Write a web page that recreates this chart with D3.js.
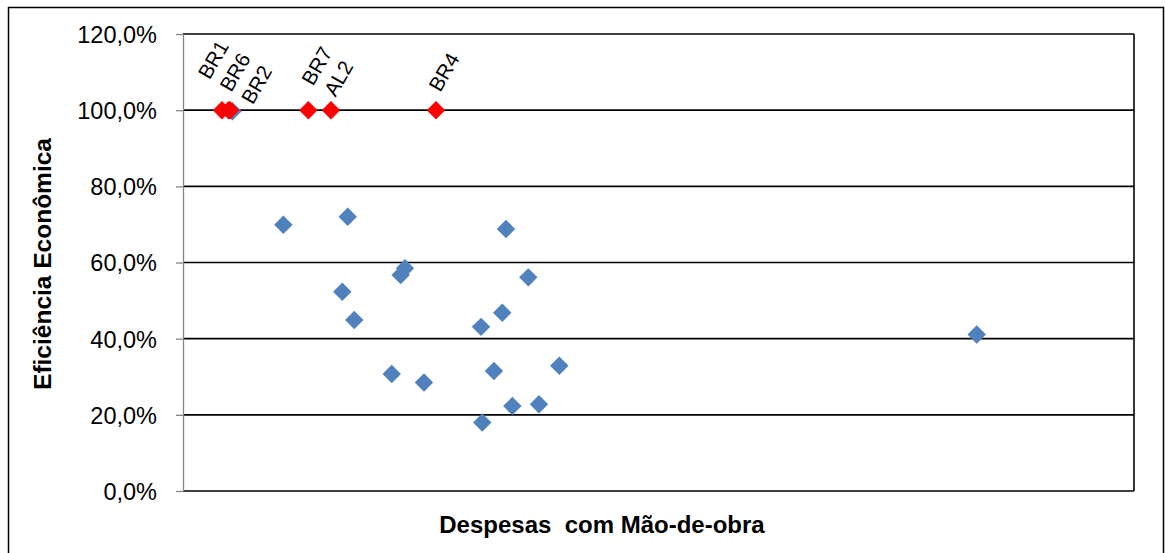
<!DOCTYPE html>
<html>
<head>
<meta charset="utf-8">
<script src="https://cdn.jsdelivr.net/npm/d3@7"></script>
<style>
  html, body { margin: 0; padding: 0; background: #fff; }
  svg { display: block; font-family: "Liberation Sans", Arial, sans-serif; }
</style>
</head>
<body>
<svg id="chart" width="1165" height="553"></svg>
<script>
// ---- data (x in arbitrary units of labour expenses, y = economic efficiency %) ----
const blueX = [5.2, 10.55, 17.32, 33.96, 23.34, 22.89, 16.75, 36.31, 18.01, 33.57, 31.34, 21.95, 25.34, 32.70, 39.57, 34.63, 37.43, 31.47, 83.46];
const blueY = [99.7, 69.9, 72.0, 68.8, 58.5, 56.7, 52.3, 56.1, 44.9, 46.8, 43.1, 30.7, 28.5, 31.5, 32.9, 22.3, 22.8, 18.0, 41.1];

const redNames = ["BR1", "BR6", "BR2", "BR7", "AL2", "BR4"];
const redX = [4.10, 4.80, 4.95, 13.18, 15.56, 26.60];
const redY = [100, 100, 100, 100, 100, 100];

const yTicks = [0, 20, 40, 60, 80, 100, 120];
const xTitle = "Despesas\u00a0 com Mão-de-obra";
const yTitle = "Eficiência Econômica";

// ---- layout ----
const svg = d3.select("#chart");
const plot = { left: 183, right: 1134, top: 34, bottom: 491 };

const x = d3.scaleLinear().domain([0, 100]).range([plot.left, plot.right]);
const y = d3.scaleLinear().domain([0, 120]).range([plot.bottom, plot.top]);

// outer chart frame
svg.append("path")
  .attr("d", "M8.5,560 V7.5 H1163.5 V560")
  .attr("fill", "none").attr("stroke", "#000").attr("stroke-width", 1.5);

// horizontal gridlines
svg.append("g").selectAll("line").data(yTicks).join("line")
  .attr("x1", plot.left).attr("x2", plot.right)
  .attr("y1", d => y(d)).attr("y2", d => y(d))
  .attr("stroke", "#000").attr("stroke-width", 1.6);

// right border of plot area
svg.append("line")
  .attr("x1", plot.right).attr("x2", plot.right)
  .attr("y1", plot.top).attr("y2", plot.bottom)
  .attr("stroke", "#000").attr("stroke-width", 1.6);

// y axis
const fmt = d => d.toFixed(1).replace(".", ",") + "%";
const yAxis = svg.append("g")
  .attr("transform", `translate(${plot.left},0)`)
  .call(d3.axisLeft(y).tickValues(yTicks).tickFormat(fmt).tickSizeInner(7).tickSizeOuter(0).tickPadding(19));
yAxis.select(".domain").attr("stroke", "#868686").attr("stroke-width", 1.3);
yAxis.selectAll(".tick line").attr("stroke", "#868686").attr("stroke-width", 1.3);
yAxis.selectAll(".tick text")
  .attr("font-family", "Liberation Sans, Arial, sans-serif")
  .attr("font-size", 23.5).attr("fill", "#000").attr("dy", "0.36em");

// axis titles
svg.append("text")
  .attr("x", 602).attr("y", 533)
  .attr("text-anchor", "middle")
  .attr("font-size", 24).attr("font-weight", "bold")
  .text(xTitle);

svg.append("text")
  .attr("transform", "translate(51,264) rotate(-90)")
  .attr("text-anchor", "middle")
  .attr("font-size", 24.5).attr("font-weight", "bold")
  .text(yTitle);

// markers
const diamond = d3.symbol().type(d3.symbolSquare).size(170);

const blue = blueX.map((v, i) => ({ x: v, y: blueY[i] }));
svg.append("g").selectAll("path").data(blue).join("path")
  .attr("d", diamond)
  .attr("transform", d => `translate(${x(d.x)},${y(d.y)}) rotate(45)`)
  .attr("fill", "#4F81BD");

const red = redX.map((v, i) => ({ x: v, y: redY[i], name: redNames[i] }));
svg.append("g").selectAll("path").data(red).join("path")
  .attr("d", diamond)
  .attr("transform", d => `translate(${x(d.x)},${y(d.y)}) rotate(45)`)
  .attr("fill", "#FF0000");

// rotated labels: ideal center above the point, then spread overlapping labels
// along the direction perpendicular to the text
const ang = -60 * Math.PI / 180;
const perp = [Math.cos(ang + Math.PI / 2), Math.sin(ang + Math.PI / 2)]; // (0.866, 0.5)
const gap = 25;
const labs = red.map(d => {
  const cx = x(d.x) + 8, cy = y(d.y) - 38;
  return { name: d.name, cx, cy, p: cx * perp[0] + cy * perp[1] };
}).sort((a, b) => a.p - b.p);

// cluster labels that are closer than gap and spread them around the mean
let clusters = labs.map(l => ({ items: [l], mean: l.p }));
let merged = true;
while (merged) {
  merged = false;
  for (let i = 0; i < clusters.length - 1; i++) {
    const a = clusters[i], b = clusters[i + 1];
    const aEnd = a.mean + (a.items.length - 1) * gap / 2;
    const bStart = b.mean - (b.items.length - 1) * gap / 2;
    if (bStart - aEnd < gap) {
      const items = a.items.concat(b.items);
      const mean = d3.mean(items, t => t.p);
      clusters.splice(i, 2, { items, mean });
      merged = true;
      break;
    }
  }
}
clusters.forEach(c => {
  const n = c.items.length;
  const mcx = d3.mean(c.items, t => t.cx), mcy = d3.mean(c.items, t => t.cy);
  c.items.forEach((t, k) => {
    const off = (k - (n - 1) / 2) * gap;
    t.fx = mcx + off * perp[0];
    t.fy = mcy + off * perp[1];
  });
});

svg.append("g").selectAll("text").data(labs).join("text")
  .attr("transform", d => `translate(${d.fx},${d.fy}) rotate(-60)`)
  .attr("text-anchor", "middle")
  .attr("dy", "0.35em")
  .attr("font-size", 20.5)
  .attr("fill", "#000")
  .text(d => d.name);
</script>
</body>
</html>
